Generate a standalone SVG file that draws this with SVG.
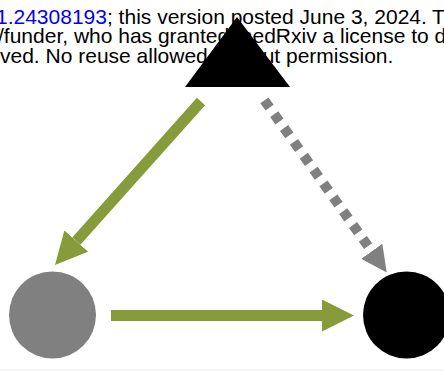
<svg xmlns="http://www.w3.org/2000/svg" width="444" height="371" viewBox="0 0 444 371">
  <style>
    .wm { font-family: "Liberation Sans", Arial, sans-serif; font-size: 21px; fill: #000000; }
    .link { fill: #0000ff; }
    .olive { stroke: #889b3a; stroke-width: 11; fill: none; }
    .dotted { stroke: #808080; stroke-width: 10; stroke-dasharray: 9 8; fill: none; }
  </style>
  <defs>
    <marker id="headOlive" viewBox="0 0 32 32" markerWidth="32" markerHeight="32" markerUnits="userSpaceOnUse" refX="0" refY="16" orient="auto">
      <path d="M0,0 L32,16 L0,32 Z" fill="#889b3a"/>
    </marker>
    <marker id="headGray" viewBox="0 0 26 26" markerWidth="26" markerHeight="26" markerUnits="userSpaceOnUse" refX="0" refY="13" orient="auto">
      <path d="M0,0 L26,13 L0,26 Z" fill="#808080"/>
    </marker>
  </defs>
  <rect x="0" y="0" width="444" height="371" fill="#ffffff"/>
  <rect x="0" y="369" width="444" height="2" fill="#f5f5f5"/>
  <g id="watermark">
    <text class="wm" x="-4" y="24"><tspan class="link">1.24308193</tspan>; this version posted June 3, 2024.</text>
    <text class="wm" x="432" y="24">The</text>
    <text class="wm" x="-2" y="43">/funder, who has granted medRxiv a license to display</text>
    <text class="wm" x="0" y="63">ved. No reuse allowed without permission.</text>
  </g>
  <g id="connectors">
    <line class="olive" x1="201" y1="101.5" x2="76.3" y2="241.1" marker-end="url(#headOlive)"/>
    <line class="olive" x1="111" y1="315.5" x2="322" y2="315.5" marker-end="url(#headOlive)"/>
    <line class="dotted" x1="264.4" y1="100.3" x2="371.7" y2="251.3" marker-end="url(#headGray)"/>
  </g>
  <g id="node-triangle">
    <polygon points="237,17 185,87 290,87" fill="#000000"/>
  </g>
  <g id="node-gray">
    <circle cx="52.5" cy="315" r="43.5" fill="#808080"/>
  </g>
  <g id="node-black">
    <circle cx="406.5" cy="315" r="43.5" fill="#000000"/>
  </g>
</svg>
